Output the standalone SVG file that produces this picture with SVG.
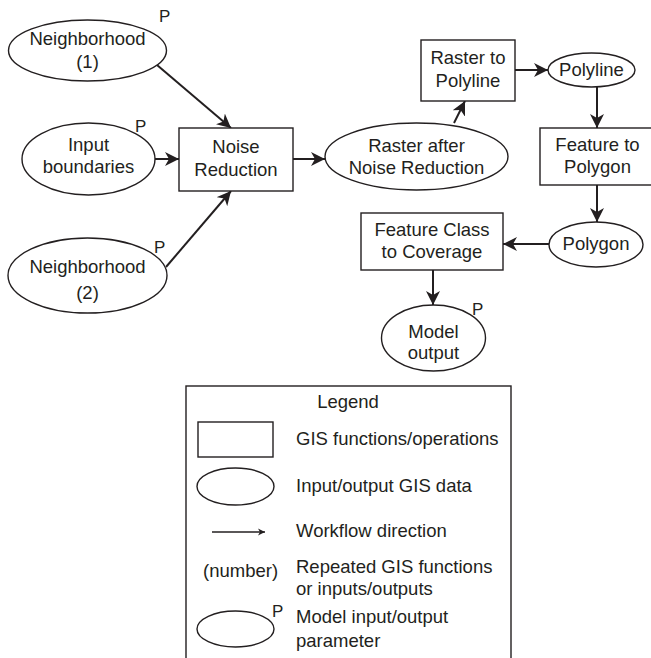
<svg xmlns="http://www.w3.org/2000/svg" width="651" height="658" viewBox="0 0 651 658">
<defs>
<style>
.n{fill:#fff;stroke:#231f20;stroke-width:1.4}
.t{font-family:"Liberation Sans",Arial,sans-serif;font-size:18.5px;fill:#231f20;text-anchor:middle}
.l{font-family:"Liberation Sans",Arial,sans-serif;font-size:18.5px;fill:#231f20}
.p{font-family:"Liberation Sans",Arial,sans-serif;font-size:17px;fill:#231f20}
.c{stroke:#231f20;stroke-width:2;fill:none;marker-end:url(#ah)}
</style>
<marker id="ah" markerUnits="userSpaceOnUse" markerWidth="15" markerHeight="14" refX="14" refY="7" orient="auto">
<path d="M0,0 L14,7 L0,14 L4,7 z" fill="#231f20"/>
</marker>
<marker id="ahs" markerUnits="userSpaceOnUse" markerWidth="8" markerHeight="8" refX="7" refY="4" orient="auto">
<path d="M0,0.5 L7,4 L0,7.5 L2,4 z" fill="#231f20"/>
</marker>
</defs>
<rect width="651" height="658" fill="#fff"/>

<g id="connectors">
<line class="c" x1="157" y1="65" x2="231" y2="128"/>
<line class="c" x1="155" y1="159" x2="179" y2="159"/>
<line class="c" x1="166" y1="267" x2="231" y2="191"/>
<line class="c" x1="293" y1="159" x2="325" y2="159"/>
<line class="c" x1="454" y1="123" x2="465" y2="101"/>
<line class="c" x1="515" y1="70" x2="548" y2="70"/>
<line class="c" x1="597" y1="87" x2="597" y2="128"/>
<line class="c" x1="597" y1="185" x2="597" y2="222"/>
<line class="c" x1="549" y1="244" x2="503" y2="244"/>
<line class="c" x1="433" y1="270" x2="433" y2="305"/>
</g>

<g id="neighborhood1">
<ellipse class="n" cx="87.5" cy="50.5" rx="79" ry="30.5"/>
<text class="t" x="87.5" y="45">Neighborhood</text>
<text class="t" x="87.5" y="68">(1)</text>
<text class="p" x="159" y="22">P</text>
</g>

<g id="input-boundaries">
<ellipse class="n" cx="88.5" cy="159" rx="66.5" ry="36"/>
<text class="t" x="88.5" y="151">Input</text>
<text class="t" x="88.5" y="173">boundaries</text>
<text class="p" x="135" y="132">P</text>
</g>

<g id="neighborhood2">
<ellipse class="n" cx="87.5" cy="275.5" rx="79.5" ry="37.5"/>
<text class="t" x="87.5" y="273">Neighborhood</text>
<text class="t" x="87.5" y="299">(2)</text>
<text class="p" x="154" y="253">P</text>
</g>

<g id="noise-reduction">
<rect class="n" x="179" y="128" width="114" height="63"/>
<text class="t" x="236" y="153">Noise</text>
<text class="t" x="236" y="176">Reduction</text>
</g>

<g id="raster-after">
<ellipse class="n" cx="416.5" cy="156.5" rx="91.5" ry="33.5"/>
<text class="t" x="416.5" y="152">Raster after</text>
<text class="t" x="416.5" y="174">Noise Reduction</text>
</g>

<g id="raster-to-polyline">
<rect class="n" x="421" y="40" width="94" height="61"/>
<text class="t" x="468" y="64">Raster to</text>
<text class="t" x="468" y="87">Polyline</text>
</g>

<g id="polyline">
<ellipse class="n" cx="591.5" cy="70" rx="43.5" ry="17"/>
<text class="t" x="591.5" y="76">Polyline</text>
</g>

<g id="feature-to-polygon">
<rect class="n" x="540" y="128" width="116" height="57"/>
<text class="t" x="597.5" y="151">Feature to</text>
<text class="t" x="597.5" y="173">Polygon</text>
</g>

<g id="polygon">
<ellipse class="n" cx="596" cy="244.5" rx="47" ry="22.5"/>
<text class="t" x="596" y="250">Polygon</text>
</g>

<g id="feature-class-to-coverage">
<rect class="n" x="361" y="213" width="142" height="57"/>
<text class="t" x="432" y="236">Feature Class</text>
<text class="t" x="432" y="258">to Coverage</text>
</g>

<g id="model-output">
<ellipse class="n" cx="433.5" cy="338" rx="52" ry="33"/>
<text class="t" x="433.5" y="338">Model</text>
<text class="t" x="433.5" y="359">output</text>
<text class="p" x="472" y="315">P</text>
</g>

<g id="legend">
<rect class="n" x="186" y="386" width="325" height="290"/>
<text class="t" x="348" y="408">Legend</text>
<rect class="n" x="198" y="422" width="75" height="35"/>
<text class="l" x="296" y="445">GIS functions/operations</text>
<ellipse class="n" cx="235.5" cy="486.5" rx="38.5" ry="18.5"/>
<text class="l" x="296" y="492">Input/output GIS data</text>
<line x1="212" y1="532" x2="265" y2="532" stroke="#231f20" stroke-width="1.5" marker-end="url(#ahs)"/>
<text class="l" x="296" y="537">Workflow direction</text>
<text class="l" x="203" y="577">(number)</text>
<text class="l" x="296" y="573">Repeated GIS functions</text>
<text class="l" x="296" y="595">or inputs/outputs</text>
<ellipse class="n" cx="235.5" cy="629" rx="38.5" ry="18"/>
<text class="p" x="272" y="617">P</text>
<text class="l" x="296" y="623">Model input/output</text>
<text class="l" x="296" y="647">parameter</text>
</g>
</svg>
